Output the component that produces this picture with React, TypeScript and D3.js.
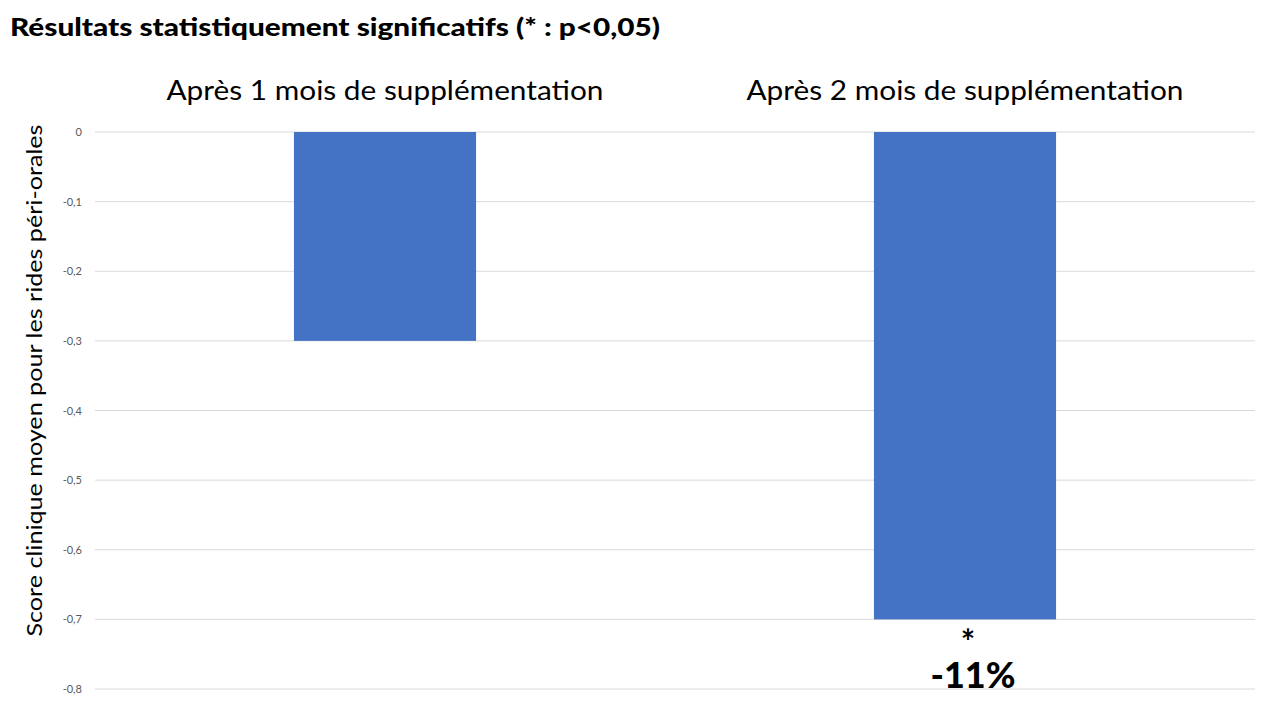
import React from "react";
import * as d3 from "d3";

const categories = ["Après 1 mois de supplémentation", "Après 2 mois de supplémentation"];
const values = [-0.3, -0.7];
const annotations = [null, { star: "*", pct: "-11%" }];
const yTicks = [0, -0.1, -0.2, -0.3, -0.4, -0.5, -0.6, -0.7, -0.8];
const title = "Résultats statistiquement significatifs (* : p<0,05)";
const yTitle = "Score clinique moyen pour les rides péri-orales";

const W = 1280, H = 720;
const font = "Lato, 'Open Sans', sans-serif";

export default function App() {
  const left = 95, right = 1255, top = 132, bottom = 689;
  const x = d3.scaleBand().domain(categories).range([left, right]).paddingInner(0.686).paddingOuter(0.343);
  const y = d3.scaleLinear().domain([0, -0.8]).range([top, bottom]);
  const fmt = (v: number) => (v === 0 ? "0" : d3.format(".1f")(v).replace(".", ",").replace("−", "-"));
  return (
    <svg width={W} height={H} style={{ position: "absolute", left: 0, top: 0, background: "#fff" }}>
      <text x={10} y={36} fontFamily={font} fontWeight={900} fontSize={25} fill="#000" textLength={650} lengthAdjust="spacingAndGlyphs">{title}</text>
      {yTicks.map((t) => (
        <g key={t}>
          <line x1={left} x2={right} y1={y(t)} y2={y(t)} stroke="#d9d9d9" strokeWidth={1} />
          <text x={82} y={y(t) + 4} textAnchor="end" fontFamily={font} fontSize={11} fill="#595959">{fmt(t)}</text>
        </g>
      ))}
      {categories.map((c, i) => {
        const cx = (x(c) as number) + x.bandwidth() / 2;
        return (
          <g key={c}>
            <text x={cx} y={100} textAnchor="middle" fontFamily={font} fontSize={27} fill="#000" textLength={437} lengthAdjust="spacingAndGlyphs">{c}</text>
            <rect x={x(c)} y={y(0)} width={x.bandwidth()} height={y(values[i]) - y(0)} fill="#4472C4" />
            {annotations[i] && (
              <>
                <text x={cx + 3} y={654} textAnchor="middle" fontFamily={font} fontWeight="bold" fontSize={34} fill="#000">{annotations[i]!.star}</text>
                <text x={cx + 8} y={688} textAnchor="middle" fontFamily={font} fontWeight={900} fontSize={36} fill="#000">{annotations[i]!.pct}</text>
              </>
            )}
          </g>
        );
      })}
      <text transform={`translate(42, ${(top + bottom) / 2 - 30}) rotate(-90)`} textAnchor="middle" fontFamily={font} fontSize={21} fill="#000" textLength={512} lengthAdjust="spacingAndGlyphs">{yTitle}</text>
    </svg>
  );
}
